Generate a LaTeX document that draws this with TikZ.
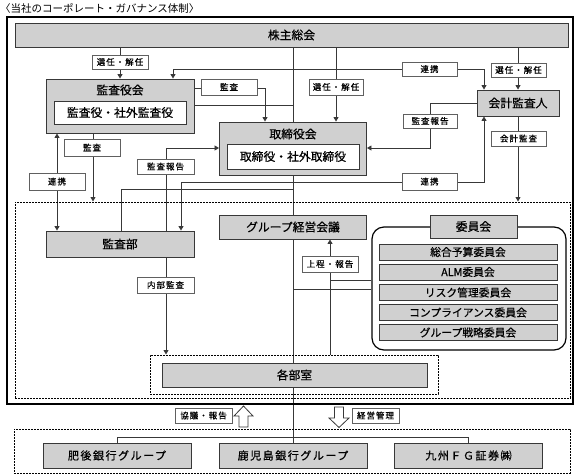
\documentclass[tikz,border=0pt]{standalone}
\usepackage{fontspec}
\setmainfont{Noto Sans CJK JP}
\newfontfamily\bjp{Noto Sans CJK JP}[FakeBold=0.5]
\newfontfamily\spjp{Noto Sans CJK JP}[LetterSpace=14,FakeBold=0.5]
\newfontfamily\ljp{Noto Sans CJK JP}[LetterSpace=12,FakeBold=0.4]
\usetikzlibrary{arrows.meta,calc}
\pgfdeclarelayer{bg}
\pgfsetlayers{bg,main}
\definecolor{boxgray}{HTML}{D0D0D0}
\definecolor{edge}{HTML}{383838}
\begin{document}
\begin{tikzpicture}[x=1pt,y=-1pt,
  gbox/.style={draw=edge,fill=boxgray,line width=0.9pt,inner sep=0pt,font=\fontsize{11.8}{12}\bjp},
  wbox/.style={draw=edge,fill=white,line width=0.8pt,inner sep=0pt,font=\fontsize{11.8}{12}\bjp},
  lbl/.style={draw=edge!80,fill=white,line width=0.6pt,inner sep=0pt,font=\fontsize{8.5}{9}\ljp},
  itembox/.style={draw=edge,fill=boxgray,line width=0.8pt,inner sep=0pt,minimum width=178,minimum height=16,font=\fontsize{10.8}{11}\bjp},
  grpbox/.style={draw=edge,fill=boxgray,line width=0.9pt,inner sep=0pt,minimum width=148,minimum height=25,font=\fontsize{11}{12}\spjp},
  dashbox/.style={draw=black,line width=1pt,dash pattern=on 2pt off 1pt,inner sep=0pt},
  ln/.style={draw=edge,line width=0.85pt},
  arr/.style={ln,-{Triangle[length=4.5pt,width=5pt]}},
  arrb/.style={ln,{Triangle[length=4.5pt,width=5pt]}-{Triangle[length=4.5pt,width=5pt]}},
  ttl/.style={inner sep=0pt,font=\fontsize{11.8}{12}\bjp}
]
\useasboundingbox (0,0) rectangle (577,474);

% title
\node[anchor=west,inner sep=0pt,font=\fontsize{10.5}{11}\selectfont] (title) at (0,8) {〈当社のコーポレート・ガバナンス体制〉};

% frames
\node[draw=black,line width=1.2pt,minimum width=566,minimum height=387,inner sep=0pt] (outer) at (290,210.5) {};
\node[dashbox,minimum width=555,minimum height=196] (bigdash) at (292.5,300) {};
\node[dashbox,minimum width=288,minimum height=39] (kakudash) at (294,374.5) {};
\node[dashbox,minimum width=556,minimum height=44] (lowdash) at (292,451) {};

% main boxes
\node[gbox,minimum width=553,minimum height=24] (kabu) at (291.5,35) {株主総会};

\node[gbox,minimum width=148,minimum height=54] (kansayaku) at (120,106) {};
\node[ttl] (kansayakut) at (120,90) {監査役会};
\node[wbox,minimum width=132,minimum height=23] (kansayakuin) at (120,112.5) {監査役・社外監査役};

\node[gbox,minimum width=147,minimum height=53] (tori) at (293,148.5) {};
\node[ttl] (torit) at (293,134) {取締役会};
\node[wbox,minimum width=132,minimum height=25] (toriin) at (293,156.5) {取締役・社外取締役};

\node[gbox,minimum width=82,minimum height=26] (kaikei) at (518,103) {会計監査人};

\node[gbox,minimum width=148,minimum height=26] (kansabu) at (120,244) {監査部};
\node[gbox,minimum width=147,minimum height=24] (gkeiei) at (293,227) {グループ経営会議};

\node[draw=black,line width=1.2pt,rounded corners=12pt,minimum width=194,minimum height=123,inner sep=0pt] (iinbox) at (469,288.5) {};
\node[gbox,minimum width=87,minimum height=23] (iinkai) at (473.5,226.5) {委員会};
\node[itembox] (i1) at (468,252) {総合予算委員会};
\node[itembox] (i2) at (468,272) {ALM委員会};
\node[itembox] (i3) at (468,292.5) {リスク管理委員会};
\node[itembox] (i4) at (468,312.5) {コンプライアンス委員会};
\node[itembox] (i5) at (468,332.5) {グループ戦略委員会};

\node[gbox,minimum width=265,minimum height=24] (kakubu) at (294.5,375) {各部室};

\node[grpbox] (higo) at (117,455.5) {肥後銀行グループ};
\node[grpbox] (kago) at (293,455.5) {鹿児島銀行グループ};
\node[grpbox] (kyushu) at (468.5,455.5) {九州ＦＧ証券㈱};

% labels
\node[lbl,minimum width=56,minimum height=14] (sen1) at (120,62) {選任・解任};
\node[lbl,minimum width=54,minimum height=16] (sen2) at (336,87) {選任・解任};
\node[lbl,minimum width=55,minimum height=14] (sen3) at (518.5,70) {選任・解任};
\node[lbl,minimum width=55,minimum height=14] (ren1) at (429.5,69) {連携};
\node[lbl,minimum width=56,minimum height=16] (kansaR) at (229,87) {監査};
\node[lbl,minimum width=56,minimum height=17] (kansaB) at (92,147.5) {監査};
\node[lbl,minimum width=56,minimum height=17] (ren2) at (57,181.5) {連携};
\node[lbl,minimum width=57,minimum height=15] (hok1) at (165.5,166.5) {監査報告};
\node[lbl,minimum width=54,minimum height=14] (hok2) at (430,121) {監査報告};
\node[lbl,minimum width=55,minimum height=15] (kkansa) at (518.5,138.5) {会計監査};
\node[lbl,minimum width=55,minimum height=17] (ren3) at (429.5,181.5) {連携};
\node[lbl,minimum width=57,minimum height=16] (naibu) at (165.5,285) {内部監査};
\node[lbl,minimum width=56,minimum height=16] (joutei) at (330,264) {上程・報告};
\node[lbl,minimum width=57,minimum height=15] (kyogi) at (203.5,415.5) {協議・報告};
\node[lbl,minimum width=47,minimum height=15] (kanri) at (375.5,415.5) {経営管理};

% coordinates
\coordinate (rA) at (173,69);
\coordinate (rB) at (484,69);
\coordinate (c6) at (265,88);
\coordinate (c7) at (293,105);
\coordinate (c8) at (93,150);
\coordinate (c9) at (57,180);
\coordinate (c10) at (166,148);
\coordinate (c11) at (121,189);
\coordinate (c12a) at (181,182);
\coordinate (c12b) at (484,182);
\coordinate (c13) at (430,103);
\coordinate (c16a) at (330,280);
\coordinate (c16b) at (293,289);
\coordinate (c17) at (0,437);

\begin{pgfonlayer}{bg}
% trunk
\draw[ln] (kabu.south -| tori.center) -- (kago.north);
% shareholders
\draw[arr] (kabu.south -| kansayaku.north) -- (kansayaku.north);
\draw[arr] (kabu.south -| sen2.center) -- (tori.north -| sen2.center);
\draw[arr] (kabu.south -| kaikei.north) -- (kaikei.north);
% top renkei
\draw[arrb] (kansayaku.north -| rA) -- (rA) -- (rB) -- (kaikei.north -| rB);
% kansa to tori
\draw[arr] (kansayaku.east |- c6) -- (c6) -- (tori.north -| c6);
\draw[ln] (kansayaku.east |- c7) -- (c7);
% kansa down
\draw[arr] (kansayaku.south -| c8) -- (bigdash.north -| c8);
% left renkei
\draw[arrb] (kansayaku.south -| c9) -- (kansabu.north -| c9);
% kansabu report
\draw[arr] (kansabu.north -| c10) -- (c10) -- (tori.west |- c10);
\draw[ln] (kansabu.north -| c11) -- (c11) -- (c11 -| tori.center);
% mid renkei
\draw[arrb] (kansabu.north -| c12a) -- (c12a) -- (c12b) -- (kaikei.south -| c12b);
% kaikei report
\draw[arr] (kaikei.west |- c13) -- (c13) -- (c13 |- c10) -- (tori.east |- c10);
% kaikei kansa
\draw[arr] (kaikei.south) -- (bigdash.north -| kaikei.south);
% naibu
\draw[arr] (kansabu.south -| c10) -- (kakudash.north -| c10);
% joutei
\draw[arr] (kakudash.north -| c16a) -- (gkeiei.south -| c16a);
\draw[ln] (iinbox.west |- c16a) -- (c16a);
\draw[ln] (iinbox.west |- c16b) -- (c16b);
% lower group
\draw[ln] (higo.north) -- (higo.north |- c17) -- (kyushu.north |- c17) -- (kyushu.north);
\end{pgfonlayer}

% hollow arrows
\draw[draw=edge,line width=0.8pt,fill=white] (239,427) -- (239,416) -- (234,416) -- (243.5,406) -- (253,416) -- (248,416) -- (248,427) -- cycle;
\draw[draw=edge,line width=0.8pt,fill=white] (334.5,407) -- (343.5,407) -- (343.5,418) -- (349,418) -- (339,427.5) -- (329,418) -- (334.5,418) -- cycle;
\end{tikzpicture}
\end{document}
